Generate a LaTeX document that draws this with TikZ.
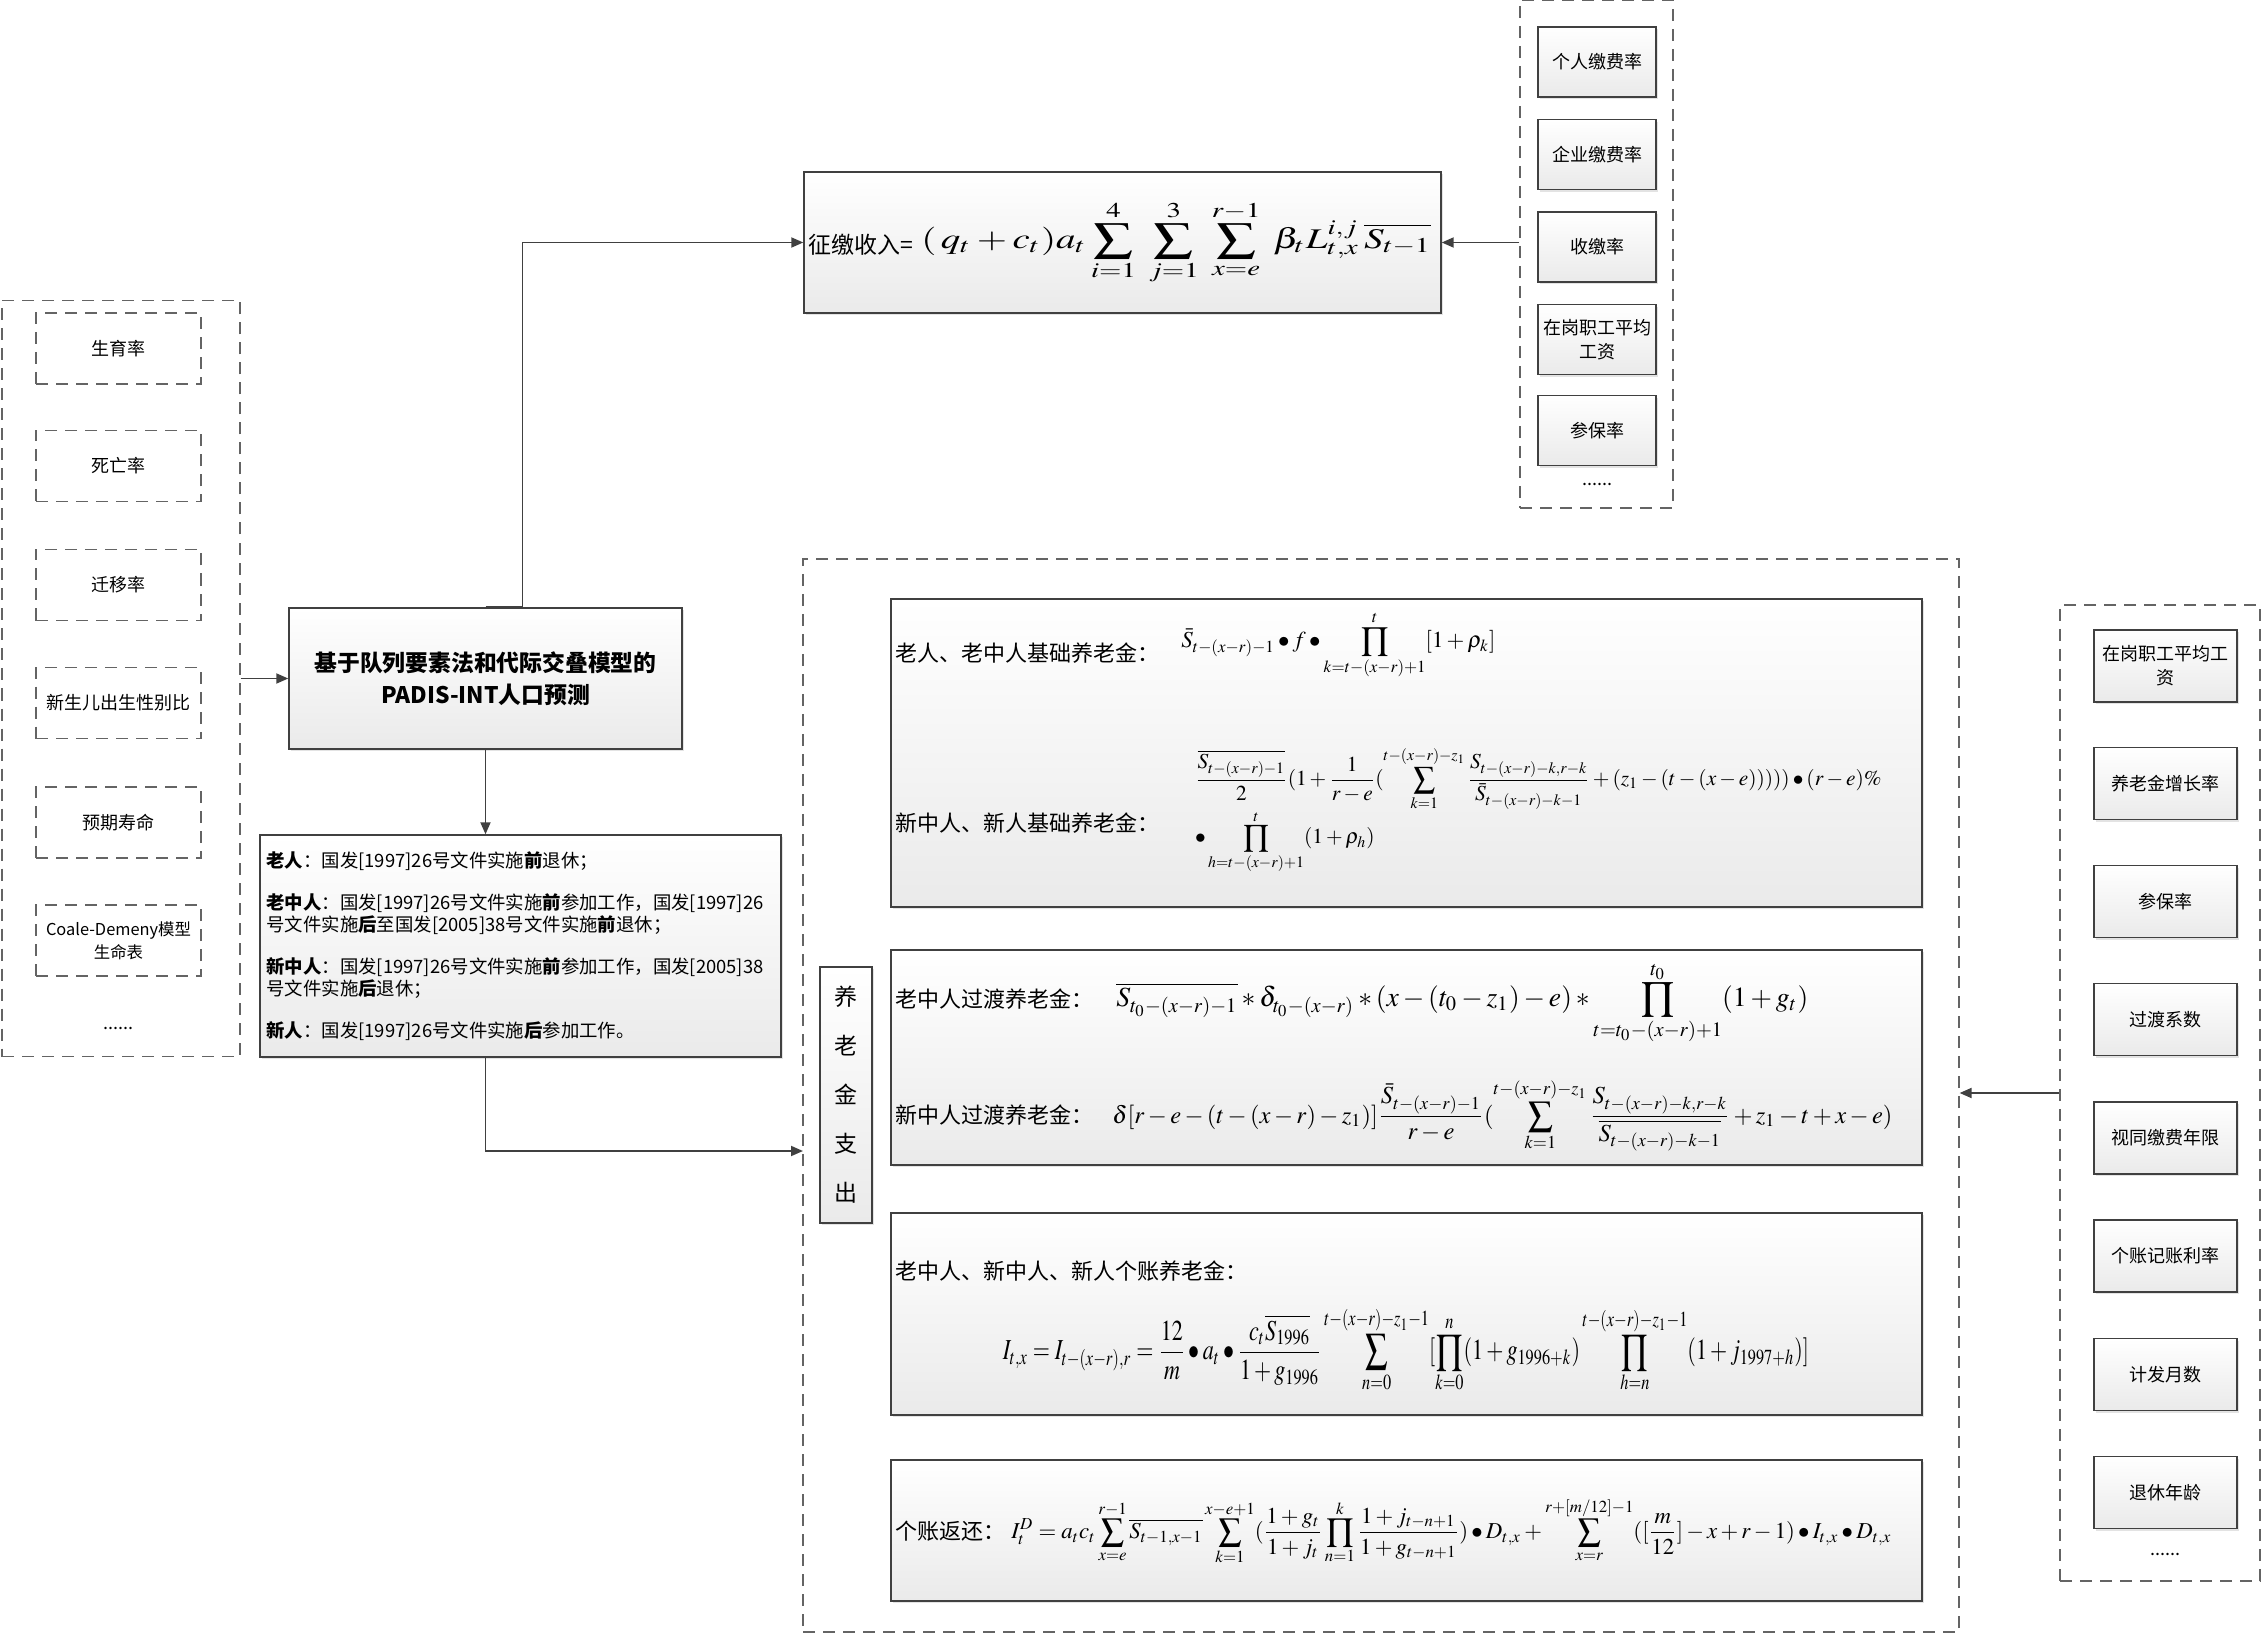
\documentclass[tikz,border=0pt]{standalone}
\usepackage{amsmath,amssymb}
\usepackage{mathptmx}
\usepackage{graphicx}
\usepackage{fontspec}
\setmainfont{Noto Sans CJK SC}
\usepackage{tikz}
\usetikzlibrary{positioning,calc}
\usetikzlibrary{arrows.meta,shadows}
\definecolor{LineGray}{RGB}{64,64,64}
\definecolor{DashGray}{RGB}{100,100,100}
\definecolor{FillGray}{RGB}{234,234,234}
\tikzset{
  box/.style={draw=LineGray,line width=0.7pt,top color=white,bottom color=FillGray,
    drop shadow={shadow xshift=1.2pt,shadow yshift=-1.2pt,fill=black!22},
    inner sep=2pt,align=center,font=\fontsize{9}{12}\selectfont},
  dbox/.style={draw=DashGray,line width=0.6pt,dash pattern=on 6pt off 4pt,
    inner sep=2pt,align=center,font=\fontsize{9}{12}\selectfont},
  grp/.style={draw=DashGray,line width=0.6pt,dash pattern=on 6pt off 4pt,inner sep=0pt},
  dots/.style={font=\fontsize{9}{10}\selectfont,inner sep=0pt},
  lbl/.style={anchor=west,inner sep=0pt,font=\fontsize{11}{13}\selectfont},
  fml/.style={anchor=west,inner sep=0pt},
  arr/.style={draw=LineGray,line width=0.9pt,-{Triangle[length=6pt,width=5pt]}},
}

\begin{document}
\begin{tikzpicture}[x=0.5pt,y=-0.5pt]
\useasboundingbox (0,0) rectangle (2264,1636);
% demographic inputs
\node[grp,minimum width=119pt,minimum height=378pt] (demog) at (121,678.5) {};
\node[dbox,minimum width=82.5pt,minimum height=35.5pt] (dm1) at (118.5,348.5) {生育率};
\node[dbox,minimum width=82.5pt,minimum height=35.5pt] (dm2) at (118.5,466) {死亡率};
\node[dbox,minimum width=82.5pt,minimum height=35.5pt] (dm3) at (118.5,585) {迁移率};
\node[dbox,minimum width=82.5pt,minimum height=35.5pt] (dm4) at (118.5,703) {新生儿出生性别比};
\node[dbox,minimum width=82.5pt,minimum height=35.5pt] (dm5) at (118.5,822.5) {预期寿命};
\node[dbox,minimum width=82.5pt,minimum height=35.5pt,font=\fontsize{8.2}{11.5}\selectfont] (dm6) at (118.5,940.5) {Coale-Demeny模型\\生命表};
\node[dots] (dm7) at (118.5,1028) {......};

% projection
\node[box,minimum width=196.5pt,minimum height=70.5pt,font=\fontsize{11.4}{16}\selectfont\bfseries] (proj) at (485.5,678.5)
  {基于队列要素法和代际交叠模型的\\PADIS-INT人口预测};
\node[box,minimum width=260.5pt,minimum height=111pt,align=left,text width=254pt,
  font=\fontsize{9.2}{11}\selectfont] (groups) at (520.5,946)
  {\textbf{老人}：国发[1997]26号文件实施\textbf{前}退休；\\[10pt]
   \textbf{老中人}：国发[1997]26号文件实施\textbf{前}参加工作，国发[1997]26\\号文件实施\textbf{后}至国发[2005]38号文件实施\textbf{前}退休；\\[10pt]
   \textbf{新中人}：国发[1997]26号文件实施\textbf{前}参加工作，国发[2005]38\\号文件实施\textbf{后}退休；\\[10pt]
   \textbf{新人}：国发[1997]26号文件实施\textbf{后}参加工作。};

% contribution income
\node[box,minimum width=318.5pt,minimum height=70.5pt] (income) at (1122.5,242.5) {};
\node[lbl,font=\fontsize{11.5}{13}\selectfont] (incl) at (808,245) {征缴收入=};
\node[fml] (incf) at (921,243) {\resizebox*{255pt}{42pt}{$\displaystyle (\,q_t+c_t)a_t\sum_{i=1}^{4}\;\sum_{j=1}^{3}\;\sum_{x=e}^{r-1}\;\beta_t L_{t,x}^{i,j}\,\overline{S_{t-1}}$}};

\node[grp,minimum width=76.5pt,minimum height=254pt] (paygrp) at (1596.5,254) {};
\node[box,minimum width=59pt,minimum height=35pt] (in1) at (1597,62) {个人缴费率};
\node[box,minimum width=59pt,minimum height=35pt] (in2) at (1597,154.5) {企业缴费率};
\node[box,minimum width=59pt,minimum height=35pt] (in3) at (1597,247) {收缴率};
\node[box,minimum width=59pt,minimum height=35pt] (in4) at (1597,339.5) {在岗职工平均\\工资};
\node[box,minimum width=59pt,minimum height=35pt] (in5) at (1597,430.5) {参保率};
\node[dots] (in6) at (1597,484) {......};

% pension expenditure
\node[grp,minimum width=578pt,minimum height=536.5pt] (spend) at (1381,1095.5) {};
\node[box,minimum width=26pt,minimum height=128pt,font=\fontsize{11.5}{24.5}\selectfont] (pillar) at (846,1095)
  {养\\老\\金\\支\\出};

\node[box,minimum width=515.5pt,minimum height=154pt] (f1) at (1406.5,753) {};
\node[lbl] (f1l) at (895,653) {老人、老中人基础养老金：};
\node[fml] (f1f) at (1181,645) {\resizebox{157pt}{!}{$\displaystyle \bar{S}_{t-(x-r)-1}\bullet f\bullet\prod_{k=t-(x-r)+1}^{t}[1+\rho_k]$}};
\node[lbl] (f1m) at (895,823) {新中人、新人基础养老金：};
\node[fml] (f1g) at (1184,810) {\resizebox{354pt}{!}{$\begin{array}{l}\displaystyle \frac{\overline{S_{t-(x-r)-1}}}{2}(1+\frac{1}{r-e}(\sum_{k=1}^{t-(x-r)-z_1}\frac{S_{t-(x-r)-k,r-k}}{\bar{S}_{t-(x-r)-k-1}}+(z_1-(t-(x-e)))))\bullet(r-e)\%\\[2pt]
  \displaystyle \bullet\prod_{h=t-(x-r)+1}^{t}(1+\rho_h)\end{array}$}};

\node[box,minimum width=515.5pt,minimum height=107.5pt] (f2) at (1406.5,1057.5) {};
\node[lbl] (f2l) at (895,999) {老中人过渡养老金：};
\node[fml] (f2f) at (1116,1003) {\resizebox{346pt}{!}{$\displaystyle \overline{S_{t_0-(x-r)-1}}*\delta_{t_0-(x-r)}*(x-(t_0-z_1)-e)*\prod_{t=t_0-(x-r)+1}^{t_0}(1+g_t)$}};
\node[lbl] (f2m) at (895,1115) {新中人过渡养老金：};
\node[fml] (f2g) at (1112,1115) {\resizebox{390pt}{!}{$\displaystyle \delta[r-e-(t-(x-r)-z_1)]\frac{\bar{S}_{t-(x-r)-1}}{r-e}(\sum_{k=1}^{t-(x-r)-z_1}\frac{S_{t-(x-r)-k,r-k}}{\overline{S_{t-(x-r)-k-1}}}+z_1-t+x-e)$}};

\node[box,minimum width=515.5pt,minimum height=101pt] (f3) at (1406.5,1314) {};
\node[lbl] (f3l) at (895,1271) {老中人、新中人、新人个账养老金：};
\node[inner sep=0pt] (f3f) at (1406,1350) {\resizebox*{403pt}{43pt}{$\displaystyle I_{t,x}=I_{t-(x-r),r}=\frac{12}{m}\bullet a_t\bullet\frac{c_t\overline{S_{1996}}}{1+g_{1996}}\sum_{n=0}^{t-(x-r)-z_1-1}[\prod_{k=0}^{n}(1+g_{1996+k})\prod_{h=n}^{t-(x-r)-z_1-1}(1+j_{1997+h})]$}};

\node[box,minimum width=515.5pt,minimum height=70.5pt] (f4) at (1406.5,1530.5) {};
\node[lbl] (f4l) at (895,1531) {个账返还：};
\node[fml] (f4f) at (1011,1531) {\resizebox{440pt}{!}{$\displaystyle I_t^D=a_tc_t\sum_{x=e}^{r-1}\overline{S_{t-1,x-1}}\sum_{k=1}^{x-e+1}(\frac{1+g_t}{1+j_t}\prod_{n=1}^{k}\frac{1+j_{t-n+1}}{1+g_{t-n+1}})\bullet D_{t,x}+\sum_{x=r}^{r+[m/12]-1}([\frac{m}{12}]-x+r-1)\bullet I_{t,x}\bullet D_{t,x}$}};

\node[grp,minimum width=100pt,minimum height=488pt] (pgrp) at (2160,1093) {};
\node[box,minimum width=71.5pt,minimum height=36pt] (ex1) at (2165.5,666) {在岗职工平均工\\资};
\node[box,minimum width=71.5pt,minimum height=36pt] (ex2) at (2165.5,783.5) {养老金增长率};
\node[box,minimum width=71.5pt,minimum height=36pt] (ex3) at (2165.5,901.5) {参保率};
\node[box,minimum width=71.5pt,minimum height=36pt] (ex4) at (2165.5,1019.5) {过渡系数};
\node[box,minimum width=71.5pt,minimum height=36pt] (ex5) at (2165.5,1138) {视同缴费年限};
\node[box,minimum width=71.5pt,minimum height=36pt] (ex6) at (2165.5,1256) {个账记账利率};
\node[box,minimum width=71.5pt,minimum height=36pt] (ex7) at (2165.5,1374.5) {计发月数};
\node[box,minimum width=71.5pt,minimum height=36pt] (ex8) at (2165.5,1492.5) {退休年龄};
\node[dots] (ex9) at (2165.5,1554) {......};

% connectors
\coordinate (spendin) at (803,1151);
\draw[arr] (demog.east) -- (proj.west);
\draw[arr] (proj.north) -- ++(37,0) |- (income.west);
\draw[arr] (proj.south) -- (proj.south |- groups.north);
\draw[arr] (proj.south |- groups.south) |- (spendin);
\draw[arr] (paygrp.west |- income.east) -- (income.east);
\draw[arr] (pgrp.west) -- (pgrp.west -| spend.east);
\end{tikzpicture}
\end{document}
